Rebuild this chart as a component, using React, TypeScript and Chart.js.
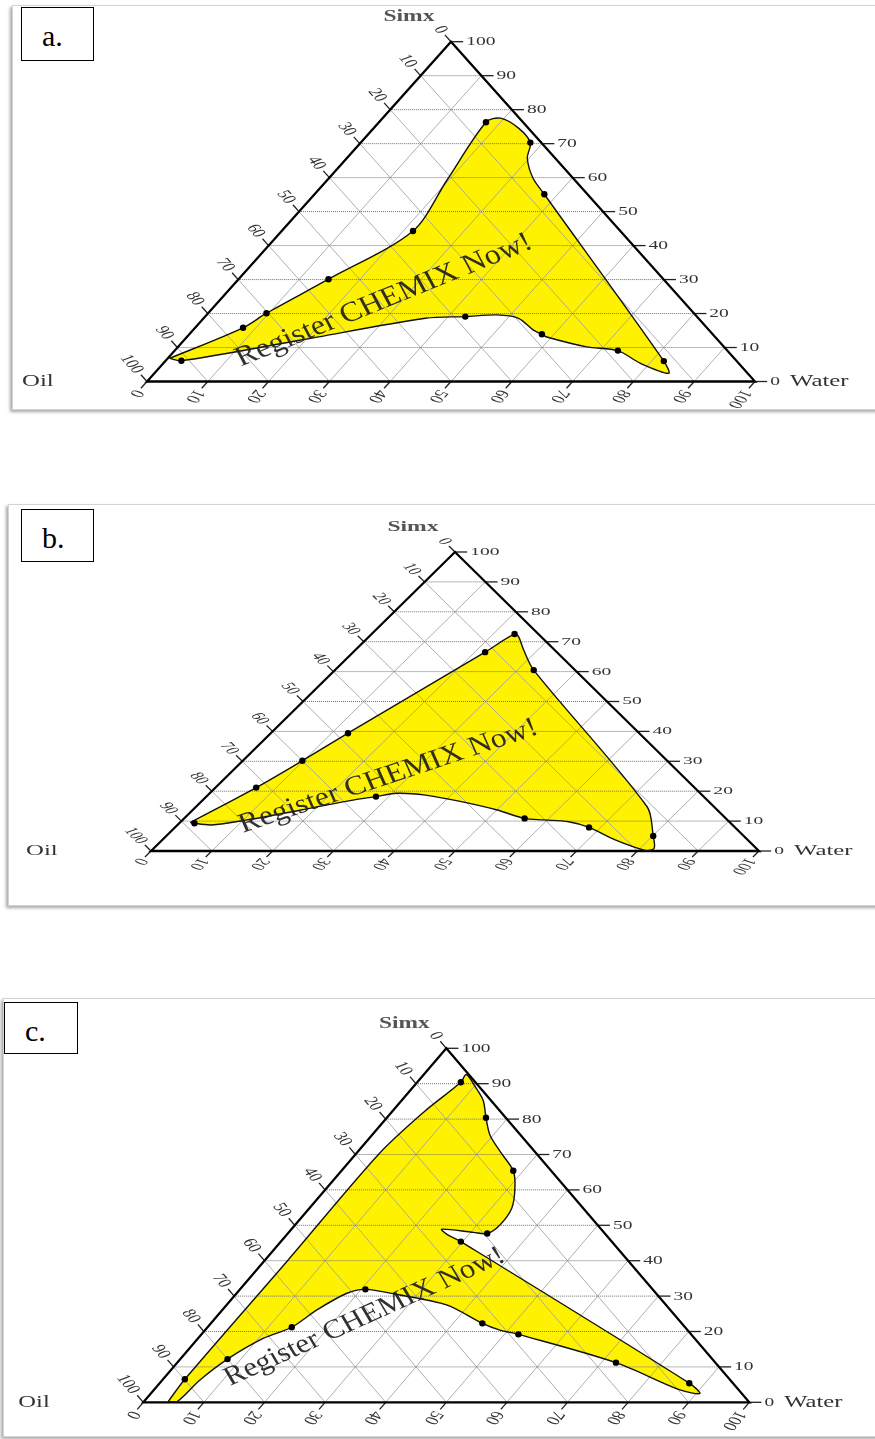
import React, { useEffect, useRef } from "react";
import { Chart, registerables } from "chart.js";

Chart.register(...registerables);

// ---------- shared labels ----------
const TICK_VALUES = [0, 10, 20, 30, 40, 50, 60, 70, 80, 90, 100];
const TITLE_TOP = "Simx";
const TITLE_LEFT = "Oil";
const TITLE_RIGHT = "Water";
const WATERMARK = "Register CHEMIX Now!";

// ---------- panel a. (compositions in %, Oil = 100 - Water - Simx) ----------
const A_BOUNDARY_WATER = [0.3, 7.9, 9.6, 14.8, 21.6, 19.7, 17.6, 19.4, 23.9, 27.9, 29.7, 33.6, 37.8, 82.0, 84.6, 78.4, 72.9, 67.2, 59.2, 58.0, 55.9, 51.8, 47.8, 42.8, 36.5, 19.2, 2.6];
const A_BOUNDARY_SIMX = [6.8, 15.8, 20.1, 30.1, 44.3, 59.3, 76.3, 77.5, 74.5, 70.3, 65.7, 59.8, 55.1, 6.0, 2.4, 5.4, 9.1, 10.2, 13.1, 13.9, 15.2, 18.6, 19.6, 19.1, 18.6, 12.2, 6.1];
const A_POINT_WATER = [2.6, 7.9, 9.6, 14.8, 21.6, 17.6, 27.9, 37.8, 82.0, 72.9, 58.0, 42.8];
const A_POINT_SIMX = [6.1, 15.8, 20.1, 30.1, 44.3, 76.3, 70.3, 55.1, 6.0, 9.1, 13.9, 19.1];

// ---------- panel b. ----------
const B_BOUNDARY_WATER = [1.7, 6.7, 9.8, 12.7, 21.7, 23.5, 24.6, 27.7, 32.7, 74.2, 80.1, 82.3, 81.2, 74.5, 68.1, 63.8, 59.4, 56.0, 50.1, 42.8, 35.8, 30.8, 27.9, 24.9, 17.8, 10.6, 5.6];
const B_BOUNDARY_SIMX = [9.5, 21.2, 30.2, 39.4, 66.5, 72.6, 71.7, 67.2, 60.5, 14.8, 5.0, 0.9, 0.2, 3.7, 7.9, 9.8, 10.4, 10.9, 13.7, 16.5, 18.7, 19.3, 18.2, 17.1, 13.7, 10.4, 8.7];
const B_POINT_WATER = [2.5, 6.7, 9.8, 12.7, 21.7, 23.5, 32.7, 80.1, 68.1, 56.0, 27.9];
const B_POINT_SIMX = [9.3, 21.2, 30.2, 39.4, 66.5, 72.6, 60.5, 5.0, 7.9, 10.9, 18.2];

// ---------- panel c. ----------
const C_BOUNDARY_WATER = [4.0, 3.6, 3.8, 3.8, 5.3, 7.2, 7.0, 10.5, 13.5, 16.35, 19.45, 23.5, 28.35, 31.1, 33.4, 33.8, 32.9, 30.5, 24.8, 26.3, 29.7, 87.4, 90.6, 86.8, 72.4, 52.3, 48.65, 44.8, 36.3, 27.2, 20.7, 18.2, 15.6, 13.9, 10.8, 7.8, 6.2, 5.5];
const C_BOUNDARY_SIMX = [0.2, 6.5, 40.0, 70.0, 82.0, 90.4, 92.6, 88.8, 85.2, 80.4, 75.5, 70.8, 65.4, 60.45, 54.8, 50.1, 47.7, 48.0, 48.9, 47.5, 45.4, 5.4, 2.5, 3.5, 11.2, 19.2, 20.4, 22.3, 27.5, 30.3, 31.9, 30.8, 26.1, 21.2, 18.1, 12.2, 6.3, 0.2];
const C_POINT_WATER = [3.6, 7.8, 13.9, 20.7, 7.2, 16.35, 28.35, 32.9, 29.7, 44.8, 52.3, 72.4, 87.4];
const C_POINT_SIMX = [6.5, 12.2, 21.2, 31.9, 90.4, 80.4, 65.4, 47.7, 45.4, 22.3, 19.2, 11.2, 5.4];

// watermark anchors (Water %, Simx %)
const A_WATERMARK_AT = [28.6, 21.9];
const B_WATERMARK_AT = [28.2, 22.7];
const C_WATERMARK_AT = [26.0, 22.3];

type Panel = {
  key: string;
  label: string;
  bw: number[];
  bs: number[];
  mw: number[];
  ms: number[];
  wm: number[];
  wmAngle: number;
  wmSize: number;
  canvasTop: number;
  canvasHeight: number;
  pad: { left: number; right: number; top: number; bottom: number };
  frame: { left: number; top: number; height: number };
  box: { left: number; top: number; width: number; height: number };
};

const PANELS: Panel[] = [
  {
    key: "a", label: "a.",
    bw: A_BOUNDARY_WATER, bs: A_BOUNDARY_SIMX, mw: A_POINT_WATER, ms: A_POINT_SIMX,
    wm: A_WATERMARK_AT, wmAngle: 25, wmSize: 28,
    canvasTop: 0, canvasHeight: 420,
    pad: { left: 147, right: 120, top: 41.7, bottom: 38.5 },
    frame: { left: 12, top: 5, height: 405 },
    box: { left: 21, top: 7, width: 73, height: 54 },
  },
  {
    key: "b", label: "b.",
    bw: B_BOUNDARY_WATER, bs: B_BOUNDARY_SIMX, mw: B_POINT_WATER, ms: B_POINT_SIMX,
    wm: B_WATERMARK_AT, wmAngle: 21, wmSize: 27.5,
    canvasTop: 500, canvasHeight: 410,
    pad: { left: 151, right: 116, top: 52, bottom: 59 },
    frame: { left: 8, top: 504, height: 402 },
    box: { left: 21, top: 509, width: 73, height: 53 },
  },
  {
    key: "c", label: "c.",
    bw: C_BOUNDARY_WATER, bs: C_BOUNDARY_SIMX, mw: C_POINT_WATER, ms: C_POINT_SIMX,
    wm: C_WATERMARK_AT, wmAngle: 27.5, wmSize: 27,
    canvasTop: 995, canvasHeight: 444,
    pad: { left: 143.3, right: 125.7, top: 53.3, bottom: 36.7 },
    frame: { left: 3, top: 998, height: 439 },
    box: { left: 4, top: 1002, width: 74, height: 52 },
  },
];

const SERIF = '"Liberation Serif", "Times New Roman", serif';

function drawStretched(
  ctx: CanvasRenderingContext2D, text: string, x: number, y: number, sx: number,
  rot: number, align: CanvasTextAlign, baseline: CanvasTextBaseline, font: string, color: string
) {
  ctx.save();
  ctx.translate(x, y);
  ctx.scale(sx, 1);
  ctx.rotate(rot);
  ctx.font = font;
  ctx.fillStyle = color;
  ctx.textAlign = align;
  ctx.textBaseline = baseline;
  ctx.fillText(text, 0, 0);
  ctx.restore();
}

function geom(chart: any) {
  const area = chart.chartArea;
  const H = area.bottom - area.top;
  const W = area.right - area.left;
  const sx = W / (H / (Math.sqrt(3) / 2));
  const P = (w: number, s: number): [number, number] => [
    chart.scales.x.getPixelForValue(w + s / 2),
    chart.scales.y.getPixelForValue(s),
  ];
  return { H, sx, P };
}

function makePlugin(panel: Panel) {
  return {
    id: "ternary_" + panel.key,
    afterDatasetDraw(chart: any, args: any) {
      if (args.index !== 0) return;
      const ctx: CanvasRenderingContext2D = chart.ctx;
      const { H, sx, P } = geom(chart);
      const seg = (a: [number, number], b: [number, number]) => {
        ctx.beginPath();
        ctx.moveTo(a[0], a[1]);
        ctx.lineTo(b[0], b[1]);
        ctx.stroke();
      };
      ctx.save();
      // diagonal grid lines
      ctx.strokeStyle = "#9a9a9a";
      ctx.lineWidth = 0.8;
      for (const v of TICK_VALUES) {
        if (v === 0 || v === 100) continue;
        seg(P(0, 100 - v), P(100 - v, 0)); // constant Oil
        seg(P(v, 0), P(v, 100 - v)); // constant Water
      }
      // horizontal dotted lines (constant Simx)
      ctx.strokeStyle = "#707070";
      ctx.lineWidth = 1;
      ctx.setLineDash([1, 1]);
      for (const v of TICK_VALUES) {
        if (v === 0 || v === 100) continue;
        seg(P(0, v), P(100 - v, v));
      }
      ctx.setLineDash([]);
      // ticks
      const TL = 2;
      ctx.strokeStyle = "#222";
      ctx.lineWidth = 1.3;
      for (const v of TICK_VALUES) {
        seg(P(100 - v, v), P(100 - v + TL, v));
        seg(P(0, 100 - v), P(-TL, 100 - v + TL));
        seg(P(v, 0), P(v, -TL));
      }
      // triangle edges
      ctx.strokeStyle = "#000";
      ctx.lineWidth = 2.3;
      ctx.lineJoin = "miter";
      const o = P(0, 0), w = P(100, 0), t = P(0, 100);
      ctx.beginPath();
      ctx.moveTo(o[0], o[1]);
      ctx.lineTo(w[0], w[1]);
      ctx.lineTo(t[0], t[1]);
      ctx.closePath();
      ctx.stroke();
      // tick labels
      const tickFont = `${(0.037 * H).toFixed(1)}px ${SERIF}`;
      const LL = 2.7;
      for (const v of TICK_VALUES) {
        const r = P(100 - v + TL, v);
        drawStretched(ctx, String(v), r[0] + 3, r[1], sx, 0, "left", "middle", tickFont, "#333");
        const l = P(-LL, 100 - v + LL);
        drawStretched(ctx, String(v), l[0], l[1], sx, Math.PI / 3, "right", "middle", tickFont, "#333");
        const b = P(v, -LL);
        drawStretched(ctx, String(v), b[0], b[1], sx, (2 * Math.PI) / 3, "left", "middle", tickFont, "#333");
      }
      // titles
      const titleFont = `${(0.047 * H).toFixed(1)}px ${SERIF}`;
      drawStretched(ctx, TITLE_LEFT, o[0] - 125, o[1], sx, 0, "left", "middle", titleFont, "#333");
      drawStretched(ctx, TITLE_RIGHT, w[0] + 35, w[1], sx, 0, "left", "middle", titleFont, "#333");
      drawStretched(ctx, TITLE_TOP, t[0] - 42, t[1] - 25, sx * 0.95, 0, "center", "middle", `bold ${titleFont}`, "#555");
      ctx.restore();
    },
    afterDatasetsDraw(chart: any) {
      const ctx: CanvasRenderingContext2D = chart.ctx;
      const { P } = geom(chart);
      const c = P(panel.wm[0], panel.wm[1]);
      const font = `${panel.wmSize}px ${SERIF}`;
      drawStretched(ctx, WATERMARK, c[0], c[1], 1.15, (-panel.wmAngle * Math.PI) / 180, "center", "alphabetic", font, "rgba(30,30,30,0.92)");
    },
  };
}

function TernaryPanel({ panel }: { panel: Panel }) {
  const ref = useRef<HTMLCanvasElement | null>(null);
  useEffect(() => {
    const canvas = ref.current;
    if (!canvas) return;
    const toXY = (w: number[], s: number[]) => w.map((wv, i) => ({ x: wv + s[i] / 2, y: s[i] }));
    const fillPts = toXY(panel.bw, panel.bs);
    fillPts.push({ ...fillPts[0] });
    const linePts = toXY(panel.bw, panel.bs);
    linePts.push({ ...linePts[0] });
    const markPts = toXY(panel.mw, panel.ms);
    const chart = new Chart(canvas, {
      type: "scatter",
      data: {
        datasets: [
          {
            data: fillPts, showLine: true, fill: "shape", backgroundColor: "#FFF200",
            borderColor: "rgba(0,0,0,0)", borderWidth: 0, pointRadius: 0, tension: 0.3, order: 3, clip: false,
          } as any,
          {
            data: linePts, showLine: true, fill: false, borderColor: "#111", borderWidth: 1.4,
            pointRadius: 0, tension: 0.3, order: 2, clip: false,
          } as any,
          {
            data: markPts, showLine: false, pointRadius: 3.2, pointBackgroundColor: "#000",
            pointBorderColor: "#000", pointBorderWidth: 0, order: 1, clip: false,
          } as any,
        ],
      },
      options: {
        animation: false,
        responsive: false,
        events: [],
        layout: { padding: panel.pad },
        scales: {
          x: { type: "linear", min: 0, max: 100, display: false },
          y: { type: "linear", min: 0, max: 100, display: false },
        },
        plugins: { legend: { display: false }, tooltip: { enabled: false } },
      },
      plugins: [makePlugin(panel)],
    } as any);
    return () => chart.destroy();
  }, [panel]);
  return (
    <canvas
      ref={ref}
      width={875}
      height={panel.canvasHeight}
      style={{ position: "absolute", left: 0, top: panel.canvasTop, width: 875, height: panel.canvasHeight }}
    />
  );
}

export default function App() {
  return (
    <div style={{ position: "absolute", left: 0, top: 0, width: 875, height: 1439, overflow: "hidden", background: "#fff" }}>
      {PANELS.map((p) => (
        <div
          key={"f" + p.key}
          style={{
            position: "absolute", left: p.frame.left, top: p.frame.top, width: 900, height: p.frame.height,
            border: "1px solid #d4d4d4", boxShadow: "-2px 2px 3px rgba(0,0,0,0.35)", background: "#fff",
            boxSizing: "border-box",
          }}
        />
      ))}
      {PANELS.map((p) => (
        <TernaryPanel key={"c" + p.key} panel={p} />
      ))}
      {PANELS.map((p) => (
        <div
          key={"b" + p.key}
          style={{
            position: "absolute", left: p.box.left, top: p.box.top, width: p.box.width, height: p.box.height,
            border: "1.5px solid #000", background: "#fff", boxSizing: "border-box",
          }}
        >
          <span
            style={{
              position: "absolute", left: 20, top: 13, fontFamily: SERIF, fontSize: 30, lineHeight: "30px", color: "#000",
            }}
          >
            {p.label}
          </span>
        </div>
      ))}
    </div>
  );
}
